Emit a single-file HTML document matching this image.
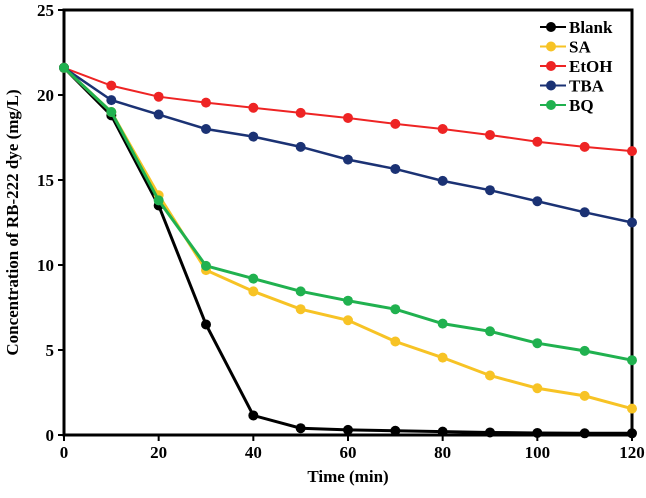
<!DOCTYPE html>
<html><head><meta charset="utf-8"><style>
body{margin:0;background:#fff;}
svg text{font-family:"Liberation Serif",serif;font-weight:bold;}
</style></head><body>
<svg id="chart" width="646" height="493" xmlns="http://www.w3.org/2000/svg"></svg>
<script>
const times=[0,10,20,30,40,50,60,70,80,90,100,110,120];
const blank=[21.6,18.8,13.5,6.5,1.15,0.4,0.3,0.25,0.2,0.15,0.12,0.1,0.1];
const sa=[21.6,19.0,14.1,9.7,8.45,7.4,6.75,5.5,4.55,3.5,2.75,2.3,1.55];
const etoh=[21.6,20.55,19.9,19.55,19.25,18.95,18.65,18.3,18.0,17.65,17.25,16.95,16.7];
const tba=[21.6,19.7,18.85,18.0,17.55,16.95,16.2,15.65,14.95,14.4,13.75,13.1,12.5];
const bq=[21.6,19.0,13.8,9.95,9.2,8.45,7.9,7.4,6.55,6.1,5.4,4.95,4.4];
const xTicks=[0,20,40,60,80,100,120];
const yTicks=[0,5,10,15,20,25];
const seriesNames=["Blank","SA","EtOH","TBA","BQ"];
const svg=document.getElementById('chart');
const NS="http://www.w3.org/2000/svg";
const X0=64,X1=632,Y0=435,Y1=10;
const xs=v=>X0+(v/120)*(X1-X0);
const ys=v=>Y0-(v/25)*(Y0-Y1);
function mk(t,a){const e=document.createElementNS(NS,t);for(const k in a)e.setAttribute(k,a[k]);svg.appendChild(e);return e;}
let e;
e=mk('rect',{x:X0,y:Y1,width:X1-X0,height:Y0-Y1,fill:'none',stroke:'#000','stroke-width':3});


xTicks.forEach(t=>{
 e=mk('line',{x1:xs(t),x2:xs(t),y1:Y0,y2:Y0+6,stroke:'#000','stroke-width':2});
 
 
 e=mk('text',{x:xs(t),y:Y0+23,'text-anchor':'middle','font-size':17});e.textContent=t;
 
 
});
yTicks.forEach(t=>{
 e=mk('line',{x1:X0-6,x2:X0,y1:ys(t),y2:ys(t),stroke:'#000','stroke-width':2});
 
 
 e=mk('text',{x:X0-10,y:ys(t)+6,'text-anchor':'end','font-size':17});e.textContent=t;
 
 
});
e=mk('text',{x:(X0+X1)/2,y:482,'text-anchor':'middle','font-size':17});e.textContent='Time (min)';


e=mk('text',{x:0,y:0,'text-anchor':'middle','font-size':17,transform:`translate(18,${(Y0+Y1)/2}) rotate(-90)`});e.textContent='Concentration of RB-222 dye (mg/L)';


const data=[blank,sa,etoh,tba,bq];
const colors=['#000000','#f7c325','#ee2424','#1b3274','#20b14f'];
const widths=[3,3,2,2.5,3];
data.forEach((d,i)=>{
 const pts=d.map((v,j)=>xs(times[j])+','+ys(v)).join(' ');
 e=mk('polyline',{points:pts,fill:'none',stroke:colors[i],'stroke-width':widths[i]});
 
 
 d.forEach((v,j)=>{
  e=mk('circle',{cx:xs(times[j]),cy:ys(v),r:5,fill:colors[i]});
  
  
 });
});
seriesNames.forEach((n,i)=>{
 const y=27+i*19.5;
 e=mk('line',{x1:540,x2:566,y1:y,y2:y,stroke:colors[i],'stroke-width':2});
 
 
 e=mk('circle',{cx:551,cy:y,r:5,fill:colors[i]});
 
 
 e=mk('text',{x:569,y:y+6,'font-size':17});e.textContent=n;
 
 
});
</script>
</body></html>
